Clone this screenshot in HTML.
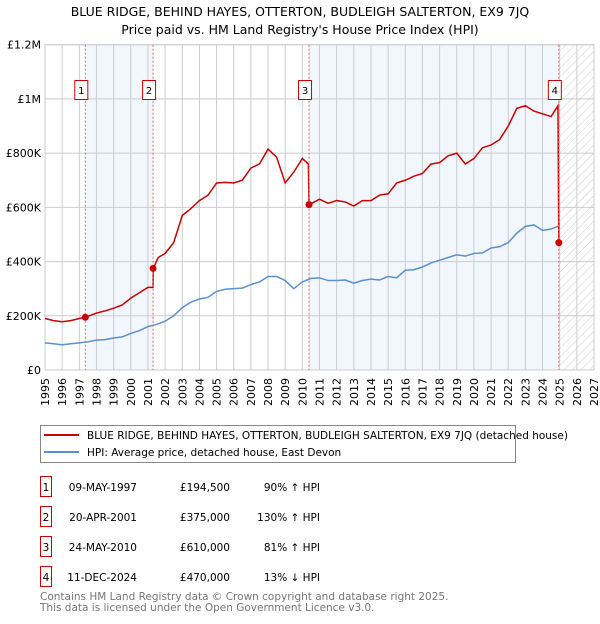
<!DOCTYPE html>
<html><head><meta charset="utf-8"><style>
body{margin:0;background:#fff;font-family:"DejaVu Sans","Liberation Sans",sans-serif;}
svg text{font-family:"DejaVu Sans","Liberation Sans",sans-serif;}
</style></head><body>
<svg id="c" width="600" height="620" xmlns="http://www.w3.org/2000/svg">
<defs><pattern id="hatch" width="6" height="6" patternUnits="userSpaceOnUse" patternTransform="rotate(45)"><line x1="0" y1="0" x2="0" y2="6" stroke="#ccc" stroke-width="1"/></pattern></defs>
<text x="300" y="16" text-anchor="middle" font-size="12.5">BLUE RIDGE, BEHIND HAYES, OTTERTON, BUDLEIGH SALTERTON, EX9 7JQ</text>
<text x="300" y="34" text-anchor="middle" font-size="12.5">Price paid vs. HM Land Registry's House Price Index (HPI)</text>
<g id="shade"></g><g id="grid"></g><g id="axes"></g><g id="lines"></g><g id="marks"></g>
<g>
<rect x="40.5" y="425.5" width="475" height="37" fill="#fff" stroke="#888"/>
<line x1="44" y1="435" x2="79" y2="435" stroke="#cc0000" stroke-width="2"/>
<text x="87" y="439" font-size="10.5">BLUE RIDGE, BEHIND HAYES, OTTERTON, BUDLEIGH SALTERTON, EX9 7JQ (detached house)</text>
<line x1="44" y1="452" x2="79" y2="452" stroke="#5b8fd4" stroke-width="2"/>
<text x="87" y="456" font-size="10.5">HPI: Average price, detached house, East Devon</text>
</g>
<g id="table" font-size="10.5"></g>
<text x="40" y="600" font-size="10.5" fill="#777">Contains HM Land Registry data © Crown copyright and database right 2025.</text>
<text x="40" y="611" font-size="10.5" fill="#777">This data is licensed under the Open Government Licence v3.0.</text>
</svg>
<script>
const hpiYears=[1995,1995.5,1996,1996.5,1997,1997.5,1998,1998.5,1999,1999.5,2000,2000.5,2001,2001.5,2002,2002.5,2003,2003.5,2004,2004.5,2005,2005.5,2006,2006.5,2007,2007.5,2008,2008.5,2009,2009.5,2010,2010.5,2011,2011.5,2012,2012.5,2013,2013.5,2014,2014.5,2015,2015.5,2016,2016.5,2017,2017.5,2018,2018.5,2019,2019.5,2020,2020.5,2021,2021.5,2022,2022.5,2023,2023.5,2024,2024.5,2024.9];
const hpiValues=[100,97,93,97,100,104,110,112,118,122,135,145,160,168,180,200,230,250,262,268,290,298,300,302,315,325,345,345,330,300,325,338,340,330,330,332,320,330,335,332,345,340,368,370,380,395,405,415,425,420,430,432,450,455,470,505,530,535,515,520,530];
const priceYears=[1995,1995.5,1996,1996.5,1997,1997.35,1998,1998.5,1999,1999.5,2000,2000.5,2001,2001.3,2001.31,2001.6,2002,2002.5,2003,2003.5,2004,2004.5,2005,2005.5,2006,2006.5,2007,2007.5,2008,2008.5,2009,2009.5,2010,2010.35,2010.39,2011,2011.5,2012,2012.5,2013,2013.5,2014,2014.5,2015,2015.5,2016,2016.5,2017,2017.5,2018,2018.5,2019,2019.5,2020,2020.5,2021,2021.5,2022,2022.5,2023,2023.5,2024,2024.5,2024.9,2024.95];
const priceValues=[190,182,178,182,190,194.5,210,218,228,240,265,285,305,305,375,415,430,470,570,595,625,645,690,692,690,700,745,760,815,785,690,730,780,760,610,630,615,625,620,605,625,625,645,650,690,700,715,725,760,765,790,800,760,780,820,830,850,900,965,975,955,945,935,975,470];
const sales=[{n:"1",y:1997.35,v:194.5,d:"09-MAY-1997",p:"£194,500",h:"90% ↑ HPI"},{n:"2",y:2001.3,v:375,d:"20-APR-2001",p:"£375,000",h:"130% ↑ HPI"},{n:"3",y:2010.39,v:610,d:"24-MAY-2010",p:"£610,000",h:"81% ↑ HPI"},{n:"4",y:2024.95,v:470,d:"11-DEC-2024",p:"£470,000",h:"13% ↓ HPI"}];
const yTicks=[0,200,400,600,800,1000,1200];
const yTickLabels=["£0","£200K","£400K","£600K","£800K","£1M","£1.2M"];
const NS="http://www.w3.org/2000/svg";
const X0=45,X1=594,Y0=370,Y1=44.7;
const xs=y=>X0+(y-1995)/(2027-1995)*(X1-X0);
const ys=v=>Y0-v/1200*(Y0-Y1);
function mk(t,a,p){const e=document.createElementNS(NS,t);for(const k in a)e.setAttribute(k,a[k]);p.appendChild(e);return e;}
const shade=document.getElementById('shade'),grid=document.getElementById('grid'),axes=document.getElementById('axes'),lines=document.getElementById('lines'),marks=document.getElementById('marks'),table=document.getElementById('table');
let r=mk('rect',{x:xs(sales[0].y),y:Y1,width:xs(sales[1].y)-xs(sales[0].y),height:Y0-Y1,fill:'#f2f6fd'},shade);


r=mk('rect',{x:xs(sales[2].y),y:Y1,width:xs(sales[3].y)-xs(sales[2].y),height:Y0-Y1,fill:'#f2f6fd'},shade);


r=mk('rect',{x:xs(2025),y:Y1,width:X1-xs(2025),height:Y0-Y1,fill:'url(#hatch)'},shade);


for(let yr=1995;yr<=2027;yr++){
 const l=mk('line',{x1:xs(yr),x2:xs(yr),y1:Y1,y2:Y0,stroke:'#ccc','stroke-width':1},grid);
 
 
 const x=xs(yr);
 const t=mk('text',{x:x+4,y:Y0+8,'font-size':11,'text-anchor':'end',transform:`rotate(-90 ${x+4} ${Y0+8})`},axes);
 t.textContent=yr;
 
 
}
yTicks.forEach((v,i)=>{
 const l=mk('line',{x1:X0,x2:X1,y1:ys(v),y2:ys(v),stroke:'#ccc','stroke-width':1},grid);
 
 
 const t=mk('text',{x:X0-4,y:ys(v)+4,'font-size':11,'text-anchor':'end'},axes);
 t.textContent=yTickLabels[i];
 
 
});
let p=mk('polyline',{points:hpiYears.map((y,i)=>xs(y)+','+ys(hpiValues[i])).join(' '),fill:'none',stroke:'#5b8fd4','stroke-width':1.5},lines);


p=mk('polyline',{points:priceYears.map((y,i)=>xs(y)+','+ys(priceValues[i])).join(' '),fill:'none',stroke:'#cc0000','stroke-width':1.5},lines);


sales.forEach((s,i)=>{
 const x=xs(s.y);
 const l=mk('line',{x1:x,x2:x,y1:Y1,y2:Y0,stroke:'#f06060','stroke-width':1,'stroke-dasharray':'2,2'},marks);
 
 
 const c=mk('circle',{cx:x,cy:ys(s.v),r:3.5,fill:'#cc0000'},marks);
 
 
 const b=mk('rect',{x:x-10.5,y:80.5,width:13,height:19,fill:'#fff',stroke:'#cc0000'},marks);
 
 
 const t=mk('text',{x:x-4,y:94,'font-size':10,'text-anchor':'middle'},marks);
 t.textContent=s.n;
 
 
 const ry=476+i*30;
 const tb=mk('rect',{x:40.5,y:ry+0.5,width:11,height:20,fill:'#fff',stroke:'#cc0000'},table);
 
 
 const cells=[[46,'middle',s.n],[137,'end',s.d],[230,'end',s.p],[320,'end',s.h]];
 cells.forEach(([cx,an,tx])=>{
  const tt=mk('text',{x:cx,y:ry+15,'text-anchor':an},table);
  tt.textContent=tx;
  
  
 });
});
const ax=mk('rect',{x:X0,y:Y1,width:X1-X0,height:Y0-Y1,fill:'none',stroke:'#ccc'},axes);


</script>
</body></html>
